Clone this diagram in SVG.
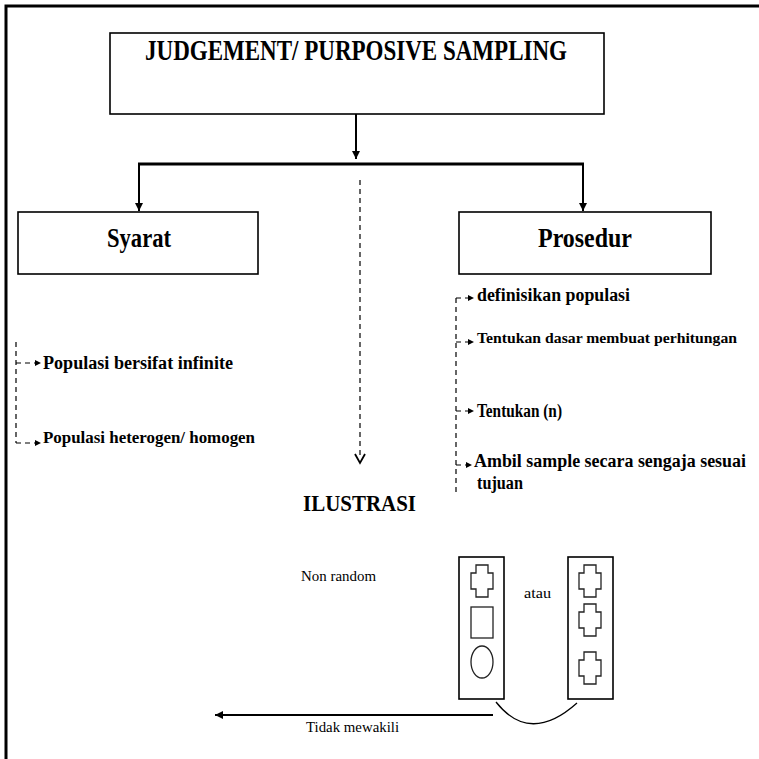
<svg xmlns="http://www.w3.org/2000/svg" width="759" height="759" viewBox="0 0 759 759">
<style>
text{font-family:"Liberation Serif","Times New Roman",serif;fill:#000}
.b{font-weight:bold}
.box{fill:#fff;stroke:#000;stroke-width:1.6}
.solid{stroke:#000;fill:none}
.dash{stroke:#000;stroke-width:1.2;fill:none;stroke-dasharray:5 4}
.icon{fill:#fff;stroke:#222;stroke-width:1.3}
.frame{stroke:#000;stroke-width:3;fill:none}
</style>
<defs>
<marker id="arr" viewBox="0 0 10 10" refX="10" refY="5" markerUnits="userSpaceOnUse" markerWidth="9" markerHeight="8" orient="auto"><path d="M0,0 L10,5 L0,10 z" fill="#000"/></marker>
<marker id="sarr" viewBox="0 0 10 10" refX="10" refY="5" markerUnits="userSpaceOnUse" markerWidth="6" markerHeight="6" orient="auto"><path d="M0,0 L10,5 L0,10 z" fill="#000"/></marker>
<path id="cross" d="M5,0 H17 V8 H22 V24 H17 V32 H5 V24 H0 V8 H5 Z"/>
</defs>
<rect width="759" height="759" fill="#fff"/>
<path class="frame" d="M6,760 V6 H760"/>

<g id="connectors">
<line class="solid" stroke-width="2" x1="356" y1="114" x2="356" y2="159" marker-end="url(#arr)"/>
<line class="solid" stroke-width="3" x1="138" y1="164" x2="584" y2="164"/>
<line class="solid" stroke-width="2" x1="139" y1="164" x2="139" y2="211" marker-end="url(#arr)"/>
<line class="solid" stroke-width="2" x1="583" y1="164" x2="583" y2="211" marker-end="url(#arr)"/>
<line class="dash" stroke-width="1.5" stroke-dasharray="7 5" x1="360" y1="180" x2="360" y2="458"/>
<path d="M355,454 L360,463 L365,454" fill="none" stroke="#000" stroke-width="1.8"/>
<path class="dash" d="M16,342 V443"/>
<line class="dash" x1="16" y1="363" x2="41" y2="363" marker-end="url(#sarr)"/>
<line class="dash" x1="16" y1="443" x2="41" y2="443" marker-end="url(#sarr)"/>
<path class="dash" d="M456,298 V496"/>
<line class="dash" x1="456" y1="298" x2="474" y2="298" marker-end="url(#sarr)"/>
<line class="dash" x1="456" y1="342" x2="474" y2="342" marker-end="url(#sarr)"/>
<line class="dash" x1="456" y1="411" x2="474" y2="411" marker-end="url(#sarr)"/>
<line class="dash" x1="456" y1="465" x2="472" y2="465" marker-end="url(#sarr)"/>
<path class="solid" stroke-width="1.3" d="M496,702 Q530,745 577,703"/>
<line class="solid" stroke-width="2" x1="493" y1="715" x2="215" y2="715" marker-end="url(#arr)"/>
</g>

<g id="title">
<rect class="box" x="110" y="33" width="494" height="81"/>
<text class="b" x="145" y="60" font-size="30" textLength="422" lengthAdjust="spacingAndGlyphs">JUDGEMENT/ PURPOSIVE SAMPLING</text>
</g>

<g id="syarat">
<rect class="box" x="18" y="212" width="240" height="62"/>
<text class="b" x="107" y="247" font-size="27" textLength="64" lengthAdjust="spacingAndGlyphs">Syarat</text>
</g>

<g id="prosedur">
<rect class="box" x="459" y="212" width="252" height="62"/>
<text class="b" x="538" y="247" font-size="27" textLength="94" lengthAdjust="spacingAndGlyphs">Prosedur</text>
</g>

<g id="syarat-items">
<text class="b" x="43" y="369" font-size="18" textLength="190" lengthAdjust="spacingAndGlyphs">Populasi bersifat infinite</text>
<text class="b" x="43" y="443" font-size="17" textLength="212" lengthAdjust="spacingAndGlyphs">Populasi heterogen/ homogen</text>
</g>

<g id="prosedur-items">
<text class="b" x="477" y="301" font-size="18" textLength="153" lengthAdjust="spacingAndGlyphs">definisikan populasi</text>
<text class="b" x="477" y="343" font-size="14" textLength="260" lengthAdjust="spacingAndGlyphs">Tentukan dasar membuat perhitungan</text>
<text class="b" x="477" y="417" font-size="18" textLength="85" lengthAdjust="spacingAndGlyphs">Tentukan (n)</text>
<text class="b" x="474" y="467" font-size="18" textLength="272" lengthAdjust="spacingAndGlyphs">Ambil sample secara sengaja sesuai</text>
<text class="b" x="477" y="489" font-size="18" textLength="46" lengthAdjust="spacingAndGlyphs">tujuan</text>
</g>

<g id="ilustrasi">
<text class="b" x="303" y="511" font-size="24" textLength="113" lengthAdjust="spacingAndGlyphs">ILUSTRASI</text>
<text x="301" y="581" font-size="15" textLength="75" lengthAdjust="spacingAndGlyphs">Non random</text>
<text x="524" y="598" font-size="15" textLength="27" lengthAdjust="spacingAndGlyphs">atau</text>
<text x="306" y="732" font-size="15" textLength="93" lengthAdjust="spacingAndGlyphs">Tidak mewakili</text>
</g>

<g id="sample-left">
<rect class="box" x="459" y="557" width="45" height="142" stroke-width="2"/>
<use href="#cross" class="icon" x="471" y="565"/>
<rect class="icon" x="471" y="607" width="22" height="31"/>
<ellipse class="icon" cx="482" cy="662" rx="11" ry="16"/>
</g>

<g id="sample-right">
<rect class="box" x="568" y="557" width="45" height="142" stroke-width="2"/>
<use href="#cross" class="icon" x="579" y="565"/>
<use href="#cross" class="icon" x="579" y="604"/>
<use href="#cross" class="icon" x="579" y="652"/>
</g>
</svg>
